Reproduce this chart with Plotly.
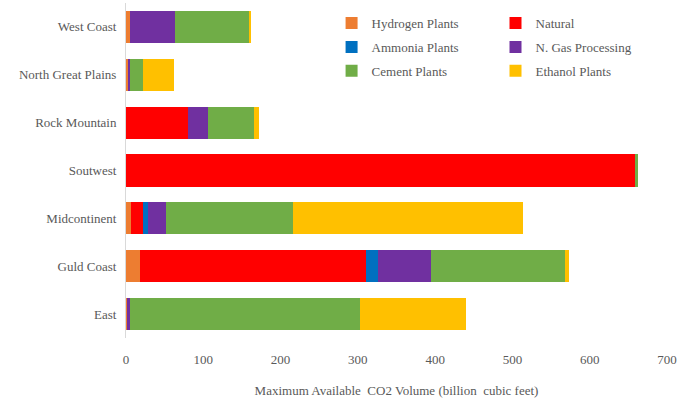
import plotly.graph_objects as go

# Regions, listed top to bottom
regions = ["West Coast", "North Great Plains", "Rock Mountain", "Soutwest",
           "Midcontinent", "Guld Coast", "East"]

# CO2 volume by source (billion cubic feet)
hydrogen = [5, 2, 0, 0, 6, 17.5, 1.5]
natural = [0, 0, 80.5, 658, 16, 293, 0]
ammonia = [0, 0, 0, 0, 7, 15, 0]
gas_processing = [58.5, 3, 25.5, 0, 23, 69, 4.3]
cement = [96, 16.5, 60, 5, 164, 173, 297.6]
ethanol = [1, 40, 6, 0, 298, 6, 136.6]

series = [
    ("Hydrogen Plants", hydrogen, "#ED7D31", "legend"),
    ("Natural", natural, "#FF0000", "legend2"),
    ("Ammonia Plants", ammonia, "#0070C0", "legend"),
    ("N. Gas Processing", gas_processing, "#7030A0", "legend2"),
    ("Cement Plants", cement, "#70AD47", "legend"),
    ("Ethanol Plants", ethanol, "#FFC000", "legend2"),
]

FONT = "Times New Roman, Liberation Serif, DejaVu Serif, serif"
GREY = "#595959"

fig = go.Figure()
for name, vals, color, lg in series:
    fig.add_trace(go.Bar(
        name=name, y=regions, x=vals, orientation="h",
        marker=dict(color=color, line=dict(width=0)),
        legend=lg, legendgroup=name,
    ))

legend_style = dict(
    font=dict(family=FONT, size=13, color=GREY),
    bgcolor="rgba(0,0,0,0)", borderwidth=0,
    tracegroupgap=4, itemwidth=30,
    xanchor="left", yanchor="top", y=0.985, yref="paper",
)

fig.update_layout(
    width=680, height=398,
    margin=dict(l=126, r=12, t=3, b=58),
    barmode="stack", bargap=0.33,
    paper_bgcolor="white", plot_bgcolor="white",
    font=dict(family=FONT, size=13, color=GREY),
    legend=dict(x=0.38, **legend_style),
    legend2=dict(x=0.683, **legend_style),
    xaxis=dict(
        range=[0, 700], dtick=100, showgrid=False, zeroline=False,
        showline=False, ticks="", ticklabelstandoff=12,
        tickfont=dict(family=FONT, size=13, color=GREY),
        title=dict(text="Maximum Available\u00a0 CO2 Volume (billion\u00a0 cubic feet)",
                   font=dict(family=FONT, size=13, color=GREY), standoff=19),
    ),
    yaxis=dict(
        autorange="reversed", showgrid=False, zeroline=False,
        showline=True, linecolor="#D9D9D9", linewidth=1, ticks="",
        ticklabelstandoff=6,
        tickfont=dict(family=FONT, size=13, color=GREY),
    ),
)

fig.write_html("out.html")
